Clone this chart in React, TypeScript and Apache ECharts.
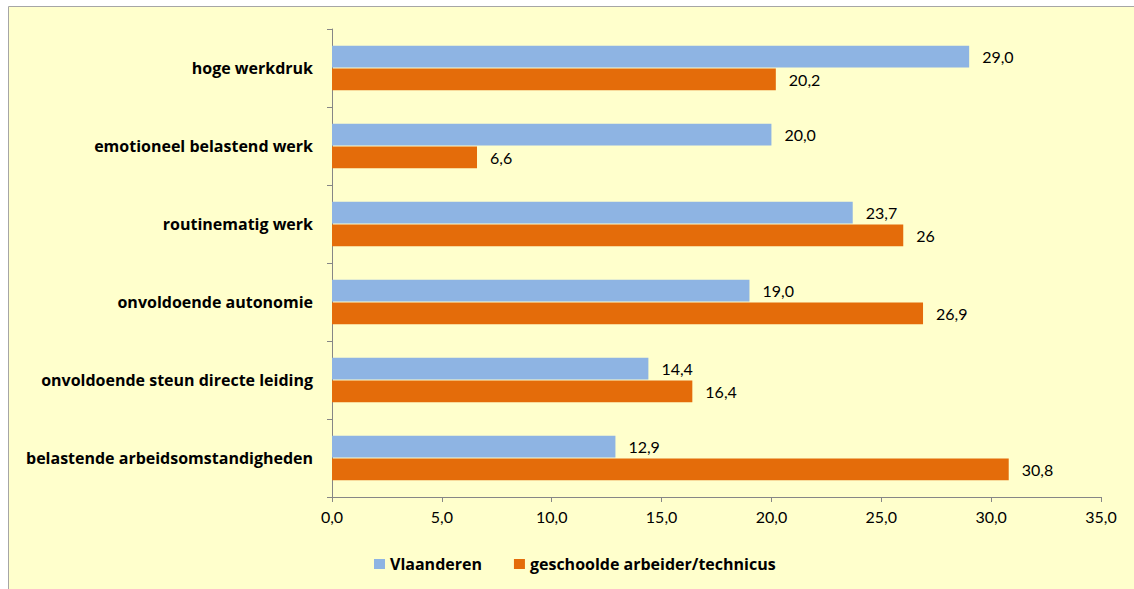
import React, { useEffect, useRef } from "react";
import * as echarts from "echarts";

const categories = [
  "hoge werkdruk",
  "emotioneel belastend werk",
  "routinematig werk",
  "onvoldoende autonomie",
  "onvoldoende steun directe leiding",
  "belastende arbeidsomstandigheden",
];
const vlaanderen = [29.0, 20.0, 23.7, 19.0, 14.4, 12.9];
const geschoold = [20.2, 6.6, 26, 26.9, 16.4, 30.8];
const seriesNames = ["Vlaanderen", "geschoolde arbeider/technicus"];

const FONT = "Lato, 'Noto Sans', sans-serif";
const BOLD_FONT = "'Open Sans', 'Noto Sans', sans-serif";
const comma = (s: string) => s.replace(".", ",");

export default function App() {
  const ref = useRef<HTMLDivElement>(null);
  useEffect(() => {
    if (!ref.current) return;
    const chart = echarts.init(ref.current, undefined, { renderer: "svg" });
    chart.setOption({
      animation: false,
      textStyle: { fontFamily: FONT },
      graphic: [
        {
          type: "rect",
          z: -10,
          silent: true,
          shape: { x: 8.5, y: 6.5, width: 1140, height: 600 },
          style: { fill: "#FFFFCC", stroke: "#A6A6A6", lineWidth: 1 },
        },
      ],
      grid: { left: 332, right: 33, top: 29, bottom: 92, containLabel: false },
      legend: {
        left: 369,
        top: 551,
        itemWidth: 11,
        itemHeight: 10,
        itemGap: 32,
        icon: "rect",
        textStyle: { fontFamily: BOLD_FONT, fontSize: 16, fontWeight: "bold", color: "#000" },
        data: seriesNames,
      },
      xAxis: {
        type: "value",
        min: 0,
        max: 35,
        interval: 5,
        axisLine: { show: true, lineStyle: { color: "#868686" } },
        axisTick: { show: true, length: 5, lineStyle: { color: "#868686" } },
        splitLine: { show: false },
        axisLabel: {
          fontFamily: FONT,
          fontSize: 16,
          color: "#000",
          margin: 11,
          formatter: (v: number) => comma(v.toFixed(1)),
        },
      },
      yAxis: {
        type: "category",
        inverse: true,
        data: categories,
        axisLine: { show: true, lineStyle: { color: "#868686" } },
        axisTick: { show: true, length: 5, alignWithLabel: false, lineStyle: { color: "#868686" } },
        axisLabel: {
          fontFamily: BOLD_FONT,
          fontSize: 16,
          fontWeight: "bold",
          color: "#000",
          margin: 19,
        },
      },
      series: [
        {
          name: seriesNames[0],
          type: "bar",
          data: vlaanderen,
          barCategoryGap: "43%",
          barGap: "4%",
          itemStyle: { color: "#8EB4E3" },
          label: {
            show: true,
            position: "right",
            distance: 13,
            fontFamily: FONT,
            fontSize: 16,
            color: "#000",
            formatter: (p: any) => comma(Number(p.value).toFixed(1)),
          },
        },
        {
          name: seriesNames[1],
          type: "bar",
          data: geschoold,
          barCategoryGap: "43%",
          barGap: "4%",
          itemStyle: { color: "#E46C0A" },
          label: {
            show: true,
            position: "right",
            distance: 13,
            fontFamily: FONT,
            fontSize: 16,
            color: "#000",
            formatter: (p: any) => comma(String(p.value)),
          },
        },
      ],
    });
    return () => chart.dispose();
  }, []);
  return (
    <div
      ref={ref}
      style={{ position: "absolute", left: 0, top: 0, width: 1134, height: 589, background: "#fff" }}
    />
  );
}
